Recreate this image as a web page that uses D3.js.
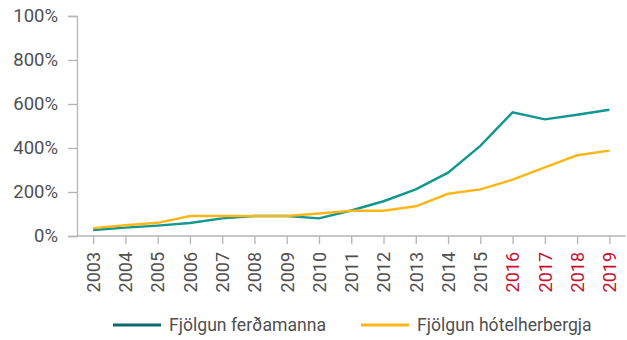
<!DOCTYPE html>
<html>
<head>
<meta charset="utf-8">
<script src="https://cdn.jsdelivr.net/npm/d3@7"></script>
<style>
  html, body { margin: 0; padding: 0; background: #fff; }
  svg { display: block; font-family: Roboto, "Liberation Sans", sans-serif; }
</style>
</head>
<body>
<svg id="chart" width="627" height="340"></svg>
<script>
// Years on the x axis (forecast years drawn in red)
const years = ["2003","2004","2005","2006","2007","2008","2009","2010","2011",
               "2012","2013","2014","2015","2016","2017","2018","2019"];
const forecastYears = ["2016","2017","2018","2019"];

// Growth since base year, in percent
const ferdamenn = [27, 38, 47, 59, 80, 91, 91, 80, 116, 158, 212, 288, 410, 562, 530, 551, 574];
const hotelherbergi = [36, 49, 60, 91, 91, 91, 91, 102, 115, 115, 135, 192, 212, 256, 312, 367, 388];

// Y tick values and their labels
const yTicks = [0, 200, 400, 600, 800, 1000];
const yTickLabels = ["0%", "200%", "400%", "600%", "800%", "100%"];

const seriesNames = ["Fjölgun ferðamanna", "Fjölgun hótelherbergja"];
const lineColors = ["#13968f", "#fbb718"];
const legendColors = ["#0b6c6b", "#fbb718"];

const svg = d3.select("#chart");
const axisColor = "#b5b5b5";
const textColor = "#505050";

const x = d3.scalePoint().domain(years).range([77, 625.5]).padding(0.5);
const y = d3.scaleLinear().domain([0, 1000]).range([236, 16]);

// Y axis
const yAxis = svg.append("g").attr("transform", "translate(77,0)")
  .call(d3.axisLeft(y).tickValues(yTicks).tickSize(9).tickPadding(10)
    .tickFormat((d, i) => yTickLabels[i]));
yAxis.select(".domain").attr("stroke", axisColor).attr("stroke-width", 1.3);
yAxis.selectAll(".tick line").attr("stroke", axisColor).attr("stroke-width", 1.3);
yAxis.selectAll(".tick text").attr("fill", textColor)
  .style("font-size", "18.5px").style("font-family", "Roboto, sans-serif");

// X axis
const xAxis = svg.append("g").attr("transform", "translate(0,236)")
  .call(d3.axisBottom(x).tickSize(8).tickSizeOuter(0));
xAxis.select(".domain").attr("stroke", axisColor).attr("stroke-width", 1.3)
  .attr("d", "M77,0H625.5");
xAxis.selectAll(".tick line").attr("stroke", axisColor).attr("stroke-width", 1.3);
xAxis.selectAll(".tick text")
  .attr("fill", d => forecastYears.includes(d) ? "#c8102e" : textColor)
  .style("font-size", "18px").style("font-family", "Roboto, sans-serif")
  .attr("text-anchor", "end")
  .attr("transform", "rotate(-90)")
  .attr("x", -16).attr("y", 0).attr("dy", "0.35em");

// Lines
const line = d3.line().x((d, i) => x(years[i])).y(d => y(d));
[ferdamenn, hotelherbergi].forEach((vals, k) => {
  svg.append("path").datum(vals)
    .attr("fill", "none")
    .attr("stroke", lineColors[k])
    .attr("stroke-width", 2.4)
    .attr("stroke-linejoin", "miter")
    .attr("d", line);
});

// Legend
const legendX = [113, 361];
seriesNames.forEach((name, k) => {
  const g = svg.append("g").attr("transform", `translate(${legendX[k]},325)`);
  g.append("line").attr("x1", 0).attr("x2", 48).attr("y1", 0).attr("y2", 0)
    .attr("stroke", legendColors[k]).attr("stroke-width", 3);
  g.append("text").attr("x", 56).attr("y", 0).attr("dy", "0.35em")
    .attr("fill", textColor).style("font-size", "17.6px").text(name);
});
</script>
</body>
</html>
